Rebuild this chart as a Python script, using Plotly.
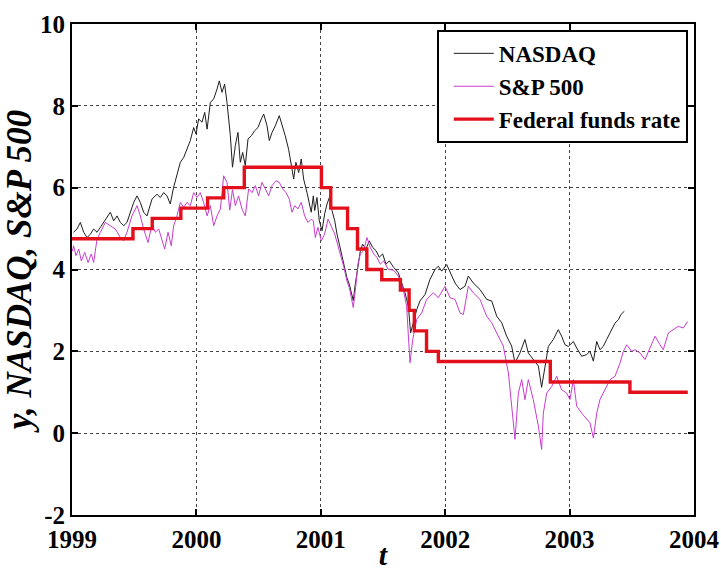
import plotly.graph_objects as go

# ---------------- data ----------------
nasdaq_t = [1999.013, 1999.040, 1999.067, 1999.094, 1999.121, 1999.147, 1999.174, 1999.201,
            1999.228, 1999.255, 1999.281, 1999.308, 1999.335, 1999.362, 1999.389, 1999.415,
            1999.442, 1999.469, 1999.496, 1999.523, 1999.549, 1999.576, 1999.603, 1999.643,
            1999.683, 1999.710, 1999.737, 1999.764, 1999.790, 1999.817, 1999.844, 1999.871,
            1999.898, 1999.924, 1999.951, 1999.978, 1999.997, 2000.018, 2000.045, 2000.067,
            2000.086, 2000.112, 2000.139, 2000.166, 2000.184, 2000.206, 2000.227, 2000.246,
            2000.273, 2000.290, 2000.313, 2000.334, 2000.353, 2000.372, 2000.393, 2000.415,
            2000.442, 2000.468, 2000.495, 2000.522, 2000.541, 2000.568, 2000.586, 2000.608,
            2000.634, 2000.666, 2000.688, 2000.714, 2000.741, 2000.763, 2000.782, 2000.800,
            2000.822, 2000.843, 2000.862, 2000.889, 2000.907, 2000.923, 2000.940, 2000.951,
            2000.969, 2000.988, 2001.010, 2001.031, 2001.050, 2001.069, 2001.090, 2001.112,
            2001.130, 2001.149, 2001.170, 2001.192, 2001.210, 2001.229, 2001.245, 2001.261,
            2001.277, 2001.299, 2001.318, 2001.336, 2001.363, 2001.390, 2001.417, 2001.444,
            2001.470, 2001.497, 2001.524, 2001.551, 2001.586,
            2001.623, 2001.650, 2001.677,
            2001.704, 2001.722, 2001.744, 2001.771, 2001.797, 2001.838, 2001.878, 2001.918,
            2001.945, 2001.972, 2002.012, 2002.039, 2002.079, 2002.119, 2002.159, 2002.186,
            2002.226, 2002.280, 2002.333, 2002.374, 2002.414, 2002.454, 2002.494, 2002.534,
            2002.561, 2002.601, 2002.641, 2002.668, 2002.708, 2002.749, 2002.775, 2002.802,
            2002.829, 2002.869, 2002.909, 2002.936, 2002.963, 2002.990, 2003.030, 2003.057,
            2003.097, 2003.137, 2003.164, 2003.191, 2003.218, 2003.244, 2003.271, 2003.298,
            2003.325, 2003.365, 2003.392, 2003.413, 2003.440]
nasdaq_v = [4.91, 4.99, 5.15, 4.91, 4.78, 4.86, 4.99, 4.91,
            5.03, 5.15, 5.27, 5.40, 5.19, 5.31, 5.15, 5.07,
            5.15, 5.40, 5.64, 5.80, 5.64, 5.40, 5.31, 5.72,
            5.84, 5.76, 5.88, 5.80, 5.60, 6.01, 6.29, 6.62,
            6.74, 6.94, 7.15, 7.47, 7.31, 7.68, 7.60, 7.84,
            7.43, 8.08, 8.17, 8.41, 8.61, 8.33, 8.53, 8.08,
            7.27, 6.50, 7.03, 7.35, 6.62, 6.86, 6.54, 7.19,
            7.27, 7.39, 7.47, 7.68, 7.80, 7.51, 7.15, 7.35,
            7.51, 7.76, 7.55, 7.27, 6.94, 6.54, 6.21, 6.62,
            6.37, 6.70, 6.21, 5.88, 5.64, 5.40, 5.80, 5.44,
            5.76, 5.19, 4.95, 5.36, 5.60, 5.76, 5.44, 5.19,
            4.87, 4.62, 4.30, 4.05, 3.80, 3.64, 3.40, 3.24,
            3.64, 4.13, 4.46, 4.62, 4.50, 4.70, 4.54, 4.46,
            4.30, 4.38, 4.13, 4.21, 4.05,
            3.92, 3.67, 3.43,
            3.10, 2.45, 2.70, 3.02, 3.23, 3.39, 3.76, 4.00,
            4.08, 3.96, 4.12, 3.92, 3.67, 3.51, 3.59, 3.84,
            3.67, 3.51, 3.27, 3.23, 2.86, 2.70, 2.37, 2.13,
            1.72, 1.96, 2.29, 1.96, 1.80, 1.64, 1.12, 1.60,
            2.12, 2.29, 2.53, 2.37, 2.16, 2.12, 2.24, 2.08,
            1.88, 1.92, 2.00, 1.76, 2.24, 2.04, 2.12, 2.29,
            2.45, 2.69, 2.77, 2.90, 2.98]

sp500_t = [1999.003, 1999.013, 1999.032, 1999.054, 1999.075, 1999.102, 1999.129, 1999.155,
           1999.174, 1999.201, 1999.228, 1999.268, 1999.308, 1999.348, 1999.389, 1999.415,
           1999.442, 1999.482, 1999.523, 1999.549, 1999.576, 1999.611, 1999.643, 1999.670,
           1999.697, 1999.723, 1999.745, 1999.772, 1999.798, 1999.817, 1999.844, 1999.871,
           1999.898, 1999.924, 1999.951, 1999.978, 2000.005, 2000.031, 2000.058, 2000.086,
           2000.112, 2000.139, 2000.166, 2000.193, 2000.219, 2000.246, 2000.268, 2000.290,
           2000.313, 2000.339, 2000.366, 2000.393, 2000.420, 2000.447, 2000.474, 2000.500,
           2000.527, 2000.554, 2000.581, 2000.608, 2000.640, 2000.666, 2000.693, 2000.720,
           2000.747, 2000.768, 2000.790, 2000.816, 2000.843, 2000.870, 2000.897, 2000.923,
           2000.940, 2000.956, 2000.977, 2001.004, 2001.031, 2001.058, 2001.085, 2001.112,
           2001.138, 2001.165, 2001.186, 2001.210, 2001.229, 2001.245, 2001.261, 2001.277,
           2001.299, 2001.318, 2001.345, 2001.371, 2001.398, 2001.425, 2001.451, 2001.478,
           2001.505, 2001.540, 2001.586,
           2001.623, 2001.663,
           2001.690, 2001.717, 2001.739, 2001.771, 2001.811, 2001.851, 2001.905, 2001.945,
           2001.998, 2002.039, 2002.079, 2002.119, 2002.146, 2002.186, 2002.226, 2002.280,
           2002.333, 2002.374, 2002.414, 2002.467, 2002.508, 2002.534, 2002.561, 2002.588,
           2002.615, 2002.641, 2002.668, 2002.708, 2002.749, 2002.775, 2002.789, 2002.816,
           2002.856, 2002.896, 2002.936, 2002.976, 2003.003, 2003.030, 2003.057, 2003.097,
           2003.137, 2003.164, 2003.191, 2003.218, 2003.244, 2003.285, 2003.325, 2003.365,
           2003.405, 2003.432, 2003.459, 2003.499, 2003.526, 2003.566, 2003.606, 2003.646,
           2003.687, 2003.727, 2003.753, 2003.794, 2003.834, 2003.874, 2003.914, 2003.949]
sp500_v = [4.45, 4.58, 4.34, 4.50, 4.21, 4.42, 4.17, 4.38,
           4.17, 4.74, 4.91, 5.15, 5.07, 4.99, 4.78, 4.70,
           4.91, 5.31, 5.56, 5.31, 4.99, 4.66, 5.10, 4.91,
           4.99, 4.74, 4.50, 4.91, 4.58, 5.07, 5.31, 5.64,
           5.52, 5.64, 5.56, 5.88, 5.76, 5.88, 5.64, 5.31,
           5.56, 5.07, 5.31, 5.48, 6.29, 6.13, 5.45, 5.95,
           5.56, 5.80, 5.48, 5.31, 5.97, 5.88, 6.05, 5.80,
           6.13, 5.97, 5.80, 6.05, 6.17, 6.13, 5.97, 5.88,
           5.72, 5.40, 5.56, 5.48, 5.64, 5.31, 5.15, 5.23,
           5.19, 4.78, 5.03, 4.70, 4.87, 5.23, 5.07, 4.87,
           4.58, 4.30, 4.05, 3.72, 3.56, 3.32, 3.07, 3.48,
           4.13, 4.38, 4.46, 4.78, 4.54, 4.38, 4.30, 4.13,
           4.21, 4.01, 3.98,
           3.84, 3.51,
           3.10, 1.72, 2.29, 2.78, 2.94, 3.27, 3.43, 3.31,
           3.59, 3.31, 3.27, 2.94, 2.90, 3.59, 3.43, 3.27,
           2.86, 2.70, 2.45, 2.13, 1.47, 0.66, -0.15, 0.98,
           1.31, 0.82, 1.31, 0.82, 0.17, -0.40, 0.49, 0.98,
           1.14, 1.39, 1.06, 0.98, 0.82, 1.31, 0.66, 0.49,
           0.33, 0.25, -0.12, 0.49, 0.82, 1.06, 1.31, 1.39,
           1.71, 2.00, 2.16, 2.00, 2.04, 1.96, 1.80, 2.08,
           2.37, 2.16, 2.04, 2.45, 2.53, 2.61, 2.57, 2.73]

fed_t = [1999.000, 1999.490, 1999.645, 1999.875, 2000.090, 2000.220, 2000.385, 2001.005,
         2001.080, 2001.215, 2001.295, 2001.370, 2001.490, 2001.640, 2001.710, 2001.752,
         2001.850, 2001.945, 2002.845, 2003.485, 2003.950]
fed_v = [4.75, 5.00, 5.25, 5.50, 5.75, 6.00, 6.50, 6.00,
         5.50, 5.00, 4.50, 4.00, 3.75, 3.50, 3.00, 2.50,
         2.00, 1.75, 1.25, 1.00, 1.00]

x_ticks = [1999, 2000, 2001, 2002, 2003, 2004]
y_ticks = [-2, 0, 2, 4, 6, 8, 10]

# ---------------- figure ----------------
SERIF = "Liberation Serif, Times New Roman, serif"

fig = go.Figure()
fig.add_trace(go.Scatter(x=nasdaq_t, y=nasdaq_v, mode="lines", name="NASDAQ",
                         line=dict(color="#1e1e1e", width=1)))
fig.add_trace(go.Scatter(x=sp500_t, y=sp500_v, mode="lines", name="S&P 500",
                         line=dict(color="#c93ccf", width=1)))
fig.add_trace(go.Scatter(x=fed_t, y=fed_v, mode="lines", name="Federal funds rate",
                         line=dict(color="#e3101c", width=3.4, shape="hv")))

axis_common = dict(
    showline=True, linecolor="black", linewidth=2, mirror="ticks",
    ticks="inside", ticklen=6, tickwidth=1.5, tickcolor="black",
    showgrid=True, gridcolor="#444444", gridwidth=1, griddash="dot",
    zeroline=False, automargin=False, ticklabeloverflow="allow",
    tickfont=dict(family=SERIF, size=25, color="black", weight="bold"),
)

fig.update_xaxes(range=[1999, 2004], tickvals=x_ticks, ticktext=[str(v) for v in x_ticks],
                 ticklabelstandoff=1,
                 title=dict(text="t", standoff=4,
                            font=dict(family=SERIF, size=30, color="black",
                                      weight="bold", style="italic")),
                 **axis_common)
fig.update_yaxes(range=[-2, 10], tickvals=y_ticks, ticktext=[str(v) for v in y_ticks],
                 title=dict(text="y, NASDAQ, S&P 500", standoff=4,
                            font=dict(family=SERIF, size=35, color="black",
                                      weight="bold", style="italic")),
                 **axis_common)

fig.update_layout(
    width=721, height=571,
    margin=dict(l=72, r=27, t=24, b=56),
    paper_bgcolor="white", plot_bgcolor="white",
    showlegend=True,
    legend=dict(x=0.99, y=0.988, xanchor="right", yanchor="top",
                bgcolor="white", bordercolor="black", borderwidth=2,
                font=dict(family=SERIF, size=23, color="black", weight="bold"),
                itemwidth=40, tracegroupgap=0, indentation=10),
)

# remove the browser's default 8 px body margin so the 721x571 figure fills the window
fig.write_html("out.html",
               config={"displayModeBar": False},
               post_script="document.body.style.margin='0';document.body.style.overflow='hidden';")
